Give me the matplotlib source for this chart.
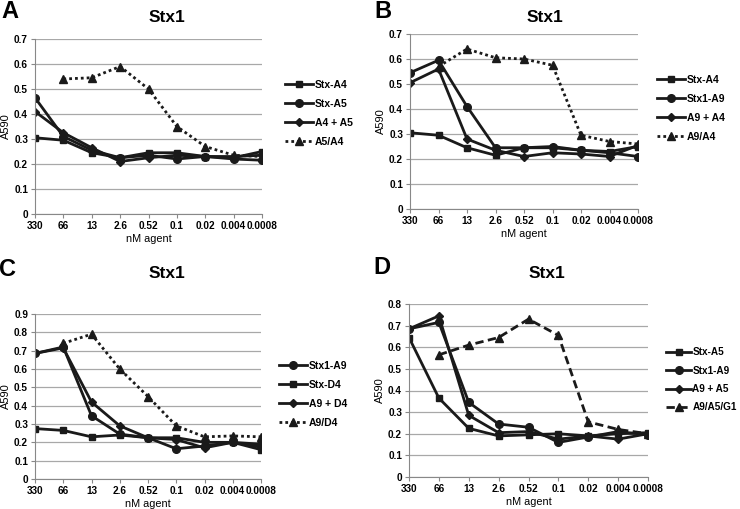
import numpy as np
import matplotlib.pyplot as plt

plt.rcParams['font.family'] = ['Liberation Sans', 'DejaVu Sans']
plt.rcParams['font.weight'] = 'bold'

# x categories (nM agent)
doses = ['330', '66', '13', '2.6', '0.52', '0.1', '0.02', '0.004', '0.0008']

# Panel A
a_stx_a4 = [0.305, 0.295, 0.245, 0.225, 0.245, 0.245, 0.23, 0.225, 0.25]
a_stx_a5 = [0.465, 0.31, 0.255, 0.225, 0.235, 0.22, 0.23, 0.22, 0.215]
a_a4_a5 = [0.41, 0.325, 0.265, 0.21, 0.225, 0.235, 0.23, 0.23, 0.235]
a_a5_a4 = [np.nan, 0.54, 0.545, 0.59, 0.50, 0.35, 0.27, 0.235, 0.23]

# Panel B
b_stx_a4 = [0.305, 0.295, 0.245, 0.215, 0.245, 0.245, 0.235, 0.23, 0.25]
b_stx1_a9 = [0.545, 0.595, 0.41, 0.245, 0.245, 0.25, 0.235, 0.225, 0.21]
b_a9_a4 = [0.505, 0.56, 0.28, 0.235, 0.21, 0.225, 0.22, 0.21, 0.255]
b_a9_a4_ratio = [np.nan, 0.57, 0.64, 0.605, 0.60, 0.575, 0.295, 0.27, 0.26]

# Panel C
c_stx1_a9 = [0.685, 0.72, 0.345, 0.245, 0.225, 0.165, 0.18, 0.20, 0.19]
c_stx_d4 = [0.275, 0.265, 0.23, 0.24, 0.225, 0.225, 0.20, 0.20, 0.16]
c_a9_d4 = [0.685, 0.715, 0.42, 0.29, 0.225, 0.215, 0.17, 0.20, 0.175]
c_a9_d4_ratio = [np.nan, 0.74, 0.79, 0.60, 0.45, 0.29, 0.23, 0.235, 0.23]

# Panel D
d_stx_a5 = [0.645, 0.365, 0.225, 0.19, 0.195, 0.20, 0.19, 0.20, 0.205]
d_stx1_a9 = [0.685, 0.715, 0.345, 0.245, 0.23, 0.16, 0.185, 0.21, 0.195]
d_a9_a5 = [0.685, 0.745, 0.285, 0.205, 0.21, 0.175, 0.19, 0.175, 0.20]
d_a9_a5_g1 = [np.nan, 0.565, 0.61, 0.645, 0.73, 0.655, 0.255, 0.22, 0.20]

W, H = 740, 509
fig = plt.figure(figsize=(W / 100, H / 100), dpi=100)

ink = '#1a1a1a'
msize = {'s': 5, 'o': 5.5, 'D': 3.8, '^': 6}
styles = {'-': '-', ':': (0, (1, 1.1)), '--': (0, (3, 1.6))}


def px(x, y):
    return x / W, 1 - y / H


def panel(letter, box, ymax, series, title_xy, letter_xy, legend_xy,
          leg_fs=7.5, leg_hl=2.7):
    left, right, top, bottom = box
    ax = fig.add_axes([left / W, 1 - bottom / H, (right - left) / W, (bottom - top) / H])
    x = np.arange(len(doses))
    for vals, label, mk, ls in series:
        ax.plot(x, vals, color=ink, lw=2.0, ls=styles[ls],
                marker=mk, ms=msize[mk], label=label)
    ax.set_xlim(0, len(doses) - 1)
    ax.set_ylim(0, ymax)
    yt = np.round(np.arange(0, ymax + 0.001, 0.1), 1)
    ax.set_yticks(yt)
    ax.set_yticklabels(['0'] + [f'{v:.1f}' for v in yt[1:]])
    ax.set_xticks(x)
    ax.set_xticklabels(doses)
    ax.tick_params(labelsize=7.2, length=3, color='#888888', width=0.8, pad=2)
    ax.yaxis.grid(True, color='#a8a8a8', lw=0.9)
    ax.set_axisbelow(True)
    for s in ['top', 'right']:
        ax.spines[s].set_visible(False)
    for s in ['left', 'bottom']:
        ax.spines[s].set_color('#888888')
        ax.spines[s].set_linewidth(0.8)
    ax.set_xlabel('nM agent', fontsize=7.8, labelpad=2.5)
    ax.set_ylabel('A590', fontsize=8, labelpad=2)
    fig.text(*px(*title_xy), 'Stx1', ha='center', va='center', fontsize=12.5)
    fig.text(*px(*letter_xy), letter, ha='center', va='center', fontsize=17)
    ax.legend(loc='upper left', bbox_to_anchor=px(*legend_xy),
              bbox_transform=fig.transFigure, frameon=False, fontsize=leg_fs,
              handlelength=leg_hl, labelspacing=0.85, handletextpad=0.15, borderpad=0,
              borderaxespad=0)
    return ax


panel('A', (35, 262, 39, 214), 0.7,
      [(a_stx_a4, 'Stx-A4', 's', '-'), (a_stx_a5, 'Stx-A5', 'o', '-'),
       (a_a4_a5, 'A4 + A5', 'D', '-'), (a_a5_a4, 'A5/A4', '^', ':')],
      (167, 18), (10, 12), (285, 80))
panel('B', (410, 638, 34, 209), 0.7,
      [(b_stx_a4, 'Stx-A4', 's', '-'), (b_stx1_a9, 'Stx1-A9', 'o', '-'),
       (b_a9_a4, 'A9 + A4', 'D', '-'), (b_a9_a4_ratio, 'A9/A4', '^', ':')],
      (545, 18), (383, 12), (657, 75))
panel('C', (35, 261, 314, 479), 0.9,
      [(c_stx1_a9, 'Stx1-A9', 'o', '-'), (c_stx_d4, 'Stx-D4', 's', '-'),
       (c_a9_d4, 'A9 + D4', 'D', '-'), (c_a9_d4_ratio, 'A9/D4', '^', ':')],
      (167, 273), (8, 270), (279, 361))
panel('D', (409, 648, 304, 477), 0.8,
      [(d_stx_a5, 'Stx-A5', 's', '-'), (d_stx1_a9, 'Stx1-A9', 'o', '-'),
       (d_a9_a5, 'A9 + A5', 'D', '-'), (d_a9_a5_g1, 'A9/A5/G1', '^', '--')],
      (547, 273), (382, 268), (666, 347), leg_fs=7.2, leg_hl=2.5)

fig.savefig('out.png', dpi=100)
